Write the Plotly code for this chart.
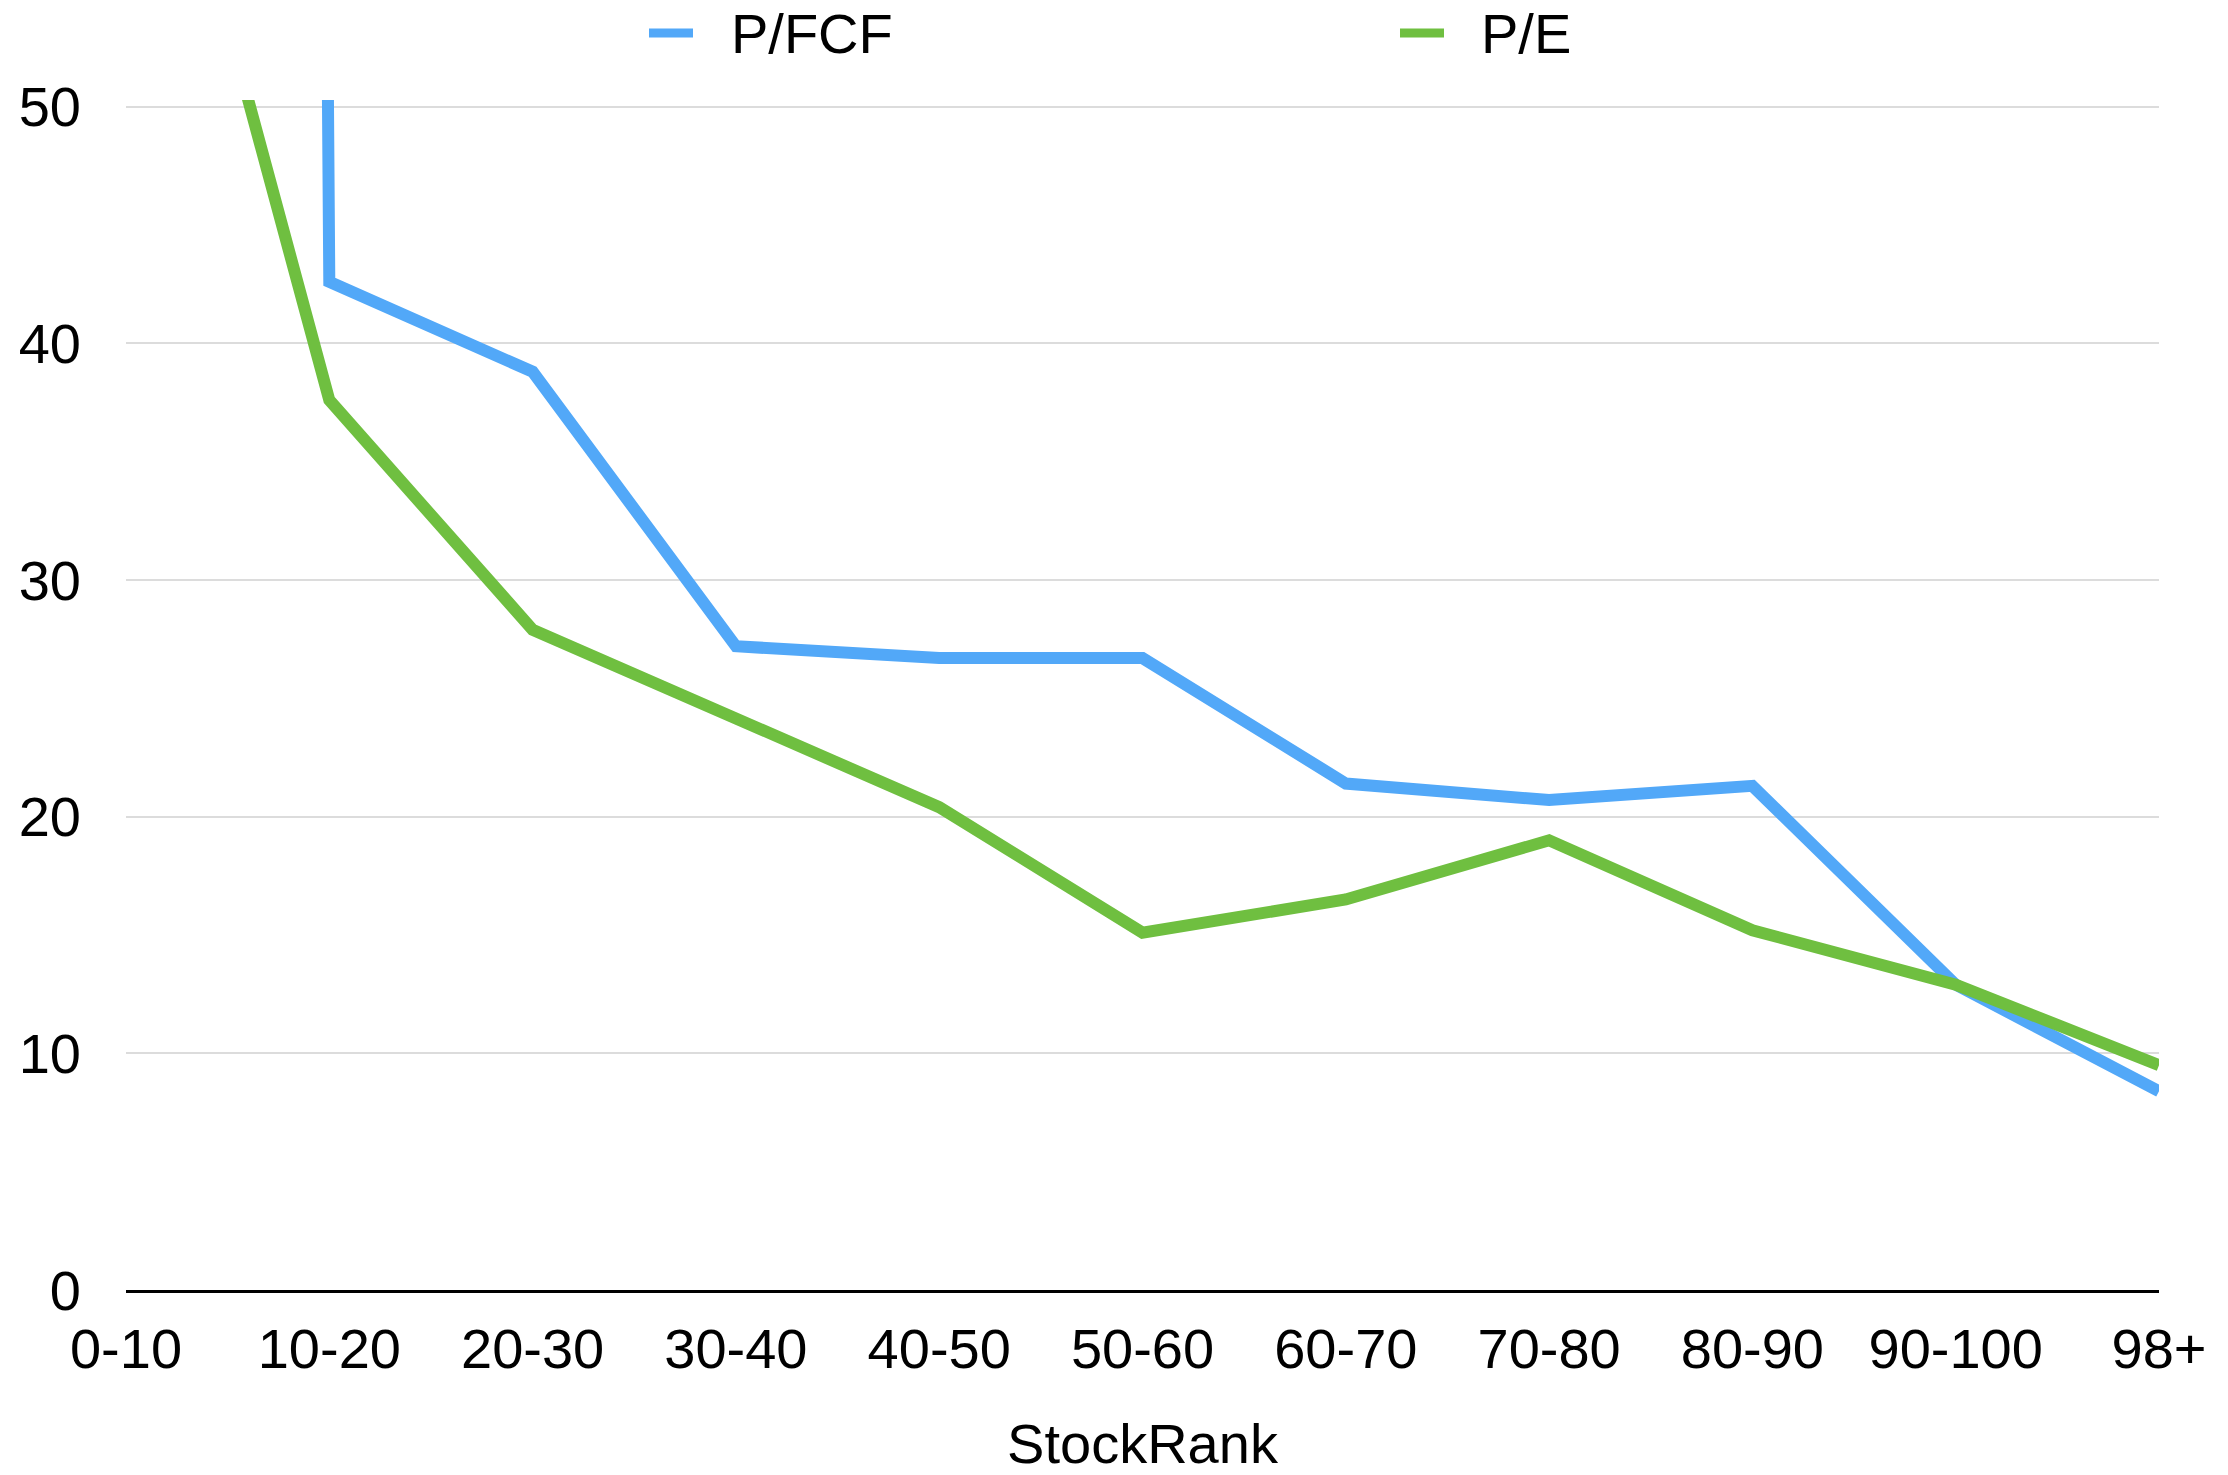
import plotly.graph_objects as go

# StockRank buckets and median valuation multiples
categories = ["0-10", "10-20", "20-30", "30-40", "40-50", "50-60",
              "60-70", "70-80", "80-90", "90-100", "98+"]
p_fcf = [1200, 42.6, 38.8, 27.2, 26.7, 26.7, 21.4, 20.7, 21.3, 12.9, 8.4]
p_e = [69.4, 37.6, 27.9, 24.2, 20.4, 15.1, 16.5, 19.0, 15.2, 12.9, 9.5]
y_ticks = [0, 10, 20, 30, 40, 50]

BLUE = "#52A8F8"
GREEN = "#6FBF40"
FONT = "Liberation Sans, Arial, Helvetica, sans-serif"

W, H = 2228, 1475
L, R, T, B = 126, 69, 100, 185

fig = go.Figure()
fig.add_trace(go.Scatter(x=categories, y=p_fcf, mode="lines", name="P/FCF",
                         line=dict(color=BLUE, width=12)))
fig.add_trace(go.Scatter(x=categories, y=p_e, mode="lines", name="P/E",
                         line=dict(color=GREEN, width=12)))

# pixel -> paper helpers for the legend row above the plot
pw, ph = W - L - R, H - T - B
def px(x):
    return (x - L) / pw
def py(y):
    return (H - B - y) / ph

legend_items = [("P/FCF", BLUE, 649, 693, 730), ("P/E", GREEN, 1400, 1444, 1480)]
for label, color, x0, x1, tx in legend_items:
    fig.add_shape(type="line", xref="paper", yref="paper",
                  x0=px(x0), x1=px(x1), y0=py(33), y1=py(33),
                  line=dict(color=color, width=9))
    fig.add_annotation(xref="paper", yref="paper", x=px(tx), y=py(1),
                       text=label, showarrow=False, xanchor="left", yanchor="top",
                       borderpad=0,
                       font=dict(family=FONT, size=56, color="black"))

fig.update_layout(
    width=W, height=H,
    margin=dict(l=L, r=R, t=T, b=B, pad=0, autoexpand=False),
    paper_bgcolor="white", plot_bgcolor="white",
    showlegend=False,
    font=dict(family=FONT, size=56, color="black"),
)
fig.update_xaxes(
    type="category", range=[0, 10], automargin=False,
    showgrid=False, showline=True, linecolor="black", linewidth=3,
    ticks="", ticklabelstandoff=8,
    tickfont=dict(family=FONT, size=56, color="black"),
    title=dict(text="StockRank", standoff=62,
               font=dict(family=FONT, size=56, color="black")),
)
fig.update_yaxes(
    range=[0, 50.28], tickvals=y_ticks, automargin=False,
    showgrid=True, gridcolor="#DCDCDC", gridwidth=1.5,
    zeroline=False, showline=False, ticks="",
    ticklabelstandoff=44,
    tickfont=dict(family=FONT, size=56, color="black"),
)

fig.write_html("out.html")
